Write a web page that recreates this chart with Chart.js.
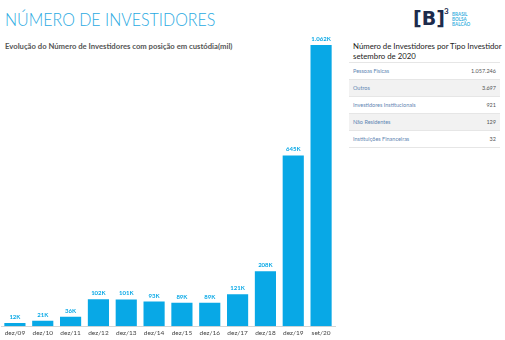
<!DOCTYPE html>
<html lang="pt-BR">
<head>
<meta charset="utf-8">
<script src="https://cdn.jsdelivr.net/npm/chart.js@4/dist/chart.umd.min.js"></script>
<style>
  html, body { margin: 0; padding: 0; background: #fff; }
  body { width: 505px; height: 340px; position: relative; overflow: hidden; font-family: Lato, "Noto Sans", sans-serif; }
  #title { position: absolute; left: 5px; top: 8px; font-size: 16px; font-weight: 300; color: #2aaae2; transform: scaleY(1.12); transform-origin: left top; }
  #subtitle { position: absolute; left: 5px; top: 41px; font-size: 7.7px; font-weight: bold; color: #555; }
  #chartBox { position: absolute; left: 0; top: 34px; width: 338px; height: 306px; }
  #logo { position: absolute; left: 413px; top: 9px; width: 60px; height: 24px; }
  #logo .b { position: absolute; left: 0; top: -2px; font-size: 19px; font-weight: bold; color: #1d2b4c; font-family: "DejaVu Sans", sans-serif; }
  #logo .sup { position: absolute; left: 31px; top: -3px; font-size: 8px; font-weight: bold; color: #1d2b4c; }
  #logo .txt { position: absolute; left: 39px; top: 3px; font-size: 4.6px; line-height: 5px; color: #3bb1e0; font-weight: bold; }
  #tableHead { position: absolute; left: 353px; top: 42px; font-size: 7.8px; line-height: 9.5px; color: #222; white-space: nowrap; }
  #tbl { position: absolute; left: 349px; top: 62px; width: 151px; border-collapse: collapse; font-size: 5.5px; }
  #tbl td { height: 16px; padding: 0 4px; border-top: 1px solid #e6e6e6; }
  #tbl tr:nth-child(even) td { background: #f2f2f2; }
  #tbl tr:last-child td { border-bottom: 1px solid #e6e6e6; }
  #tbl td.n { color: #5f86b3; }
  #tbl td.v { text-align: right; color: #555; }
</style>
</head>
<body>
<div id="title">NÚMERO DE INVESTIDORES</div>
<div id="subtitle">Evolução do Número de Investidores com posição em custódia(mil)</div>
<div id="chartBox"><canvas id="investChart"></canvas></div>

<div id="logo"><span class="b">[B]</span><span class="sup">3</span><div class="txt">BRASIL<br>BOLSA<br>BALCÃO</div></div>
<div id="tableHead">Número de Investidores por Tipo Investidor<br>setembro de 2020</div>
<table id="tbl"></table>

<script>
// evolução anual (milhares de investidores)
const periodos = ['dez/09', 'dez/10', 'dez/11', 'dez/12', 'dez/13', 'dez/14', 'dez/15', 'dez/16', 'dez/17', 'dez/18', 'dez/19', 'set/20'];
const investidores = [12, 21, 36, 102, 101, 93, 89, 89, 121, 208, 645, 1062];

// posição por tipo de investidor, setembro de 2020
const tipos = ['Pessoas Físicas', 'Outros', 'Investidores Institucionais', 'Não Residentes', 'Instituições Financeiras'];
const quantidades = [1057246, 3697, 921, 129, 32];

const azul = '#08a8e6';

const tbl = document.getElementById('tbl');
tipos.forEach((t, i) => {
  const tr = document.createElement('tr');
  tr.innerHTML = '<td class="n">' + t + '</td><td class="v">' + quantidades[i].toLocaleString('pt-BR') + '</td>';
  tbl.appendChild(tr);
});

// rótulos de valor acima das barras
const rotulos = {
  id: 'rotulos',
  afterDatasetsDraw(chart) {
    const ctx = chart.ctx;
    const meta = chart.getDatasetMeta(0);
    ctx.save();
    ctx.fillStyle = azul;
    ctx.font = 'bold 6px Lato, sans-serif';
    ctx.textAlign = 'center';
    ctx.textBaseline = 'bottom';
    meta.data.forEach((bar, i) => {
      const v = chart.data.datasets[0].data[i];
      ctx.fillText(v.toLocaleString('pt-BR') + 'K', bar.x, bar.y - 3);
    });
    ctx.restore();
  }
};

new Chart(document.getElementById('investChart'), {
  type: 'bar',
  data: {
    labels: periodos,
    datasets: [{
      data: investidores,
      backgroundColor: azul,
      categoryPercentage: 1,
      barPercentage: 0.76
    }]
  },
  options: {
    responsive: true,
    maintainAspectRatio: false,
    animation: false,
    layout: { padding: { top: 11, left: 1, right: 3, bottom: 0 } },
    plugins: {
      legend: { display: false },
      tooltip: { enabled: false }
    },
    scales: {
      x: {
        grid: { display: false, drawTicks: false },
        border: { color: '#d6d6d6' },
        ticks: { color: '#444', font: { size: 6.5, family: 'Lato' }, padding: 3, maxRotation: 0 }
      },
      y: {
        display: false,
        min: 0,
        max: 1062
      }
    }
  },
  plugins: [rotulos]
});
</script>
</body>
</html>
